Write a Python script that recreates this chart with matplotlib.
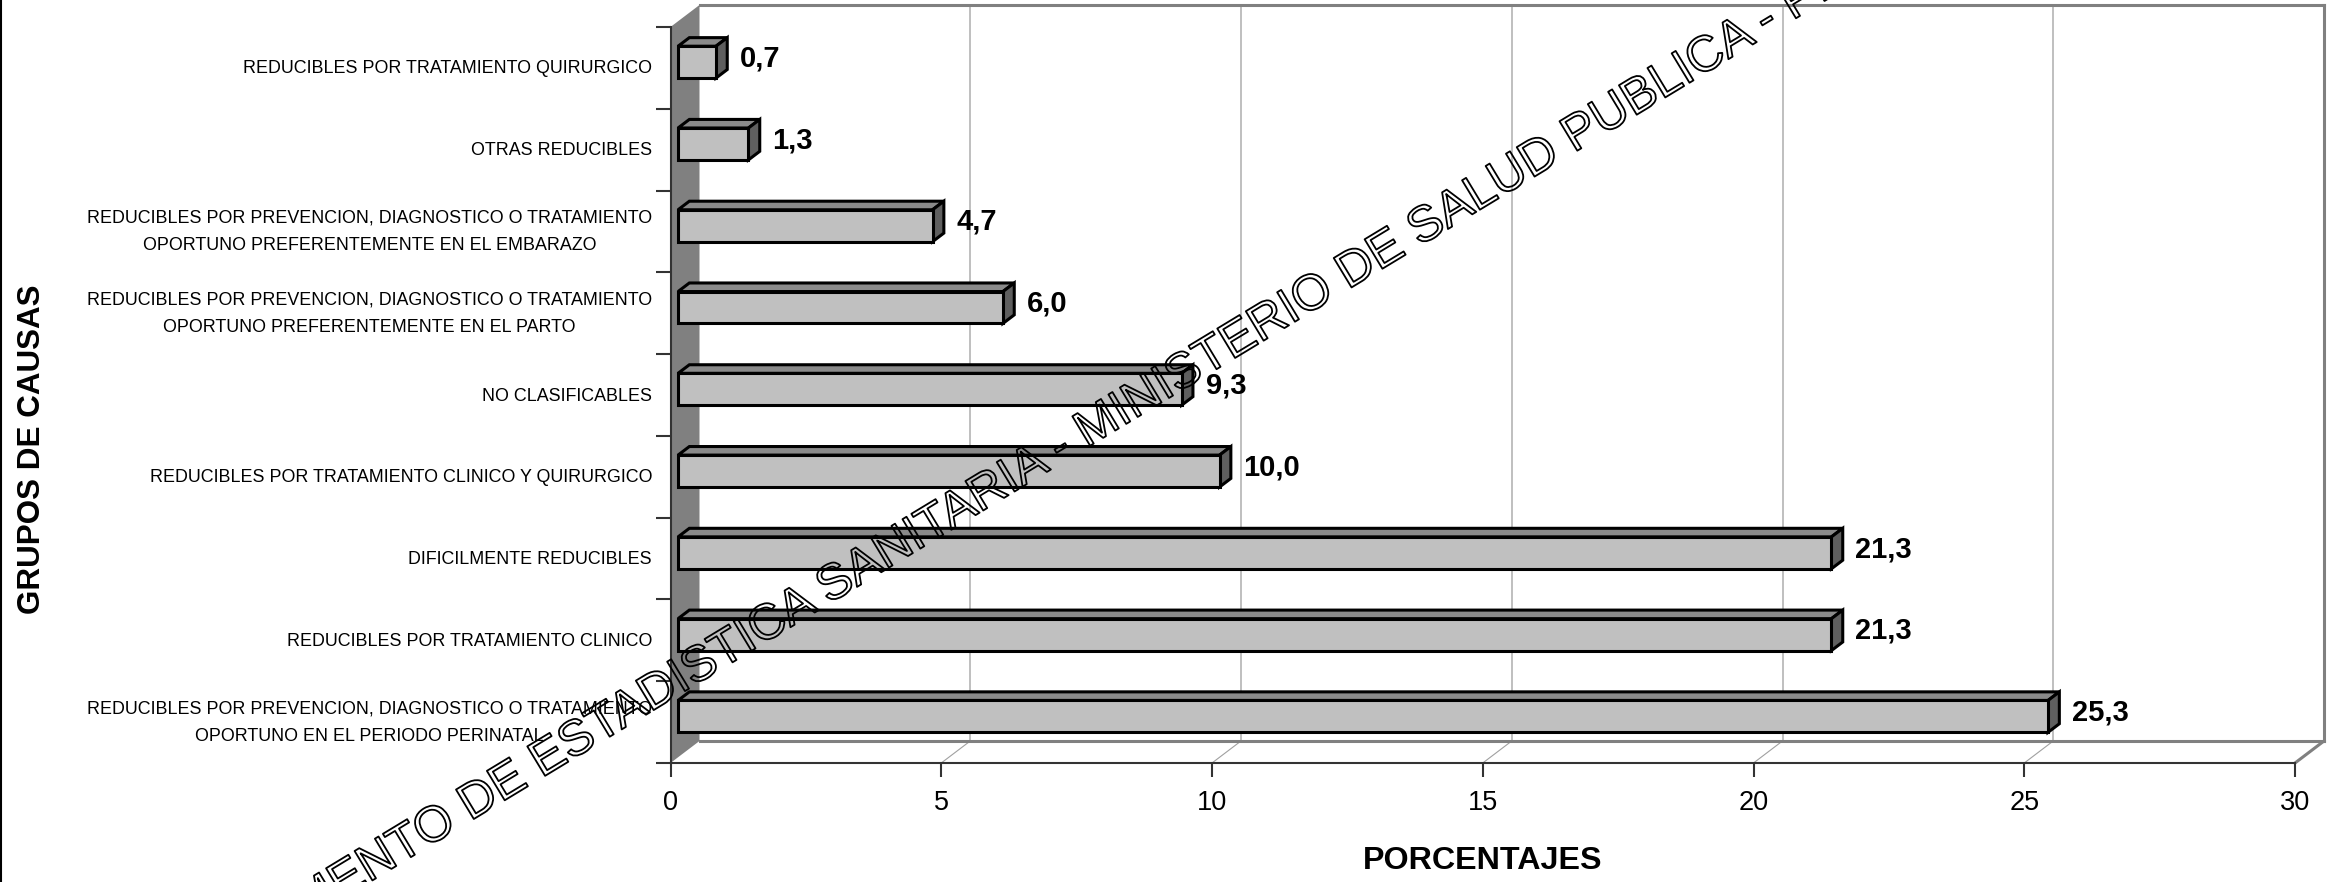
import matplotlib
matplotlib.use('Agg')
import matplotlib.pyplot as plt
from matplotlib.patches import Polygon
from matplotlib.lines import Line2D
from matplotlib.transforms import IdentityTransform, offset_copy
from matplotlib.font_manager import FontProperties
from matplotlib.ticker import FixedLocator
import matplotlib.patheffects as pe
import numpy as np

plt.rcParams['font.family'] = ['Liberation Sans', 'DejaVu Sans']

# ---------------- data (bottom to top) ----------------
categories = [
    "REDUCIBLES POR PREVENCION, DIAGNOSTICO O TRATAMIENTO\nOPORTUNO EN EL PERIODO PERINATAL",
    "REDUCIBLES POR TRATAMIENTO CLINICO",
    "DIFICILMENTE REDUCIBLES",
    "REDUCIBLES POR TRATAMIENTO CLINICO Y QUIRURGICO",
    "NO CLASIFICABLES",
    "REDUCIBLES POR PREVENCION, DIAGNOSTICO O TRATAMIENTO\nOPORTUNO PREFERENTEMENTE EN EL PARTO",
    "REDUCIBLES POR PREVENCION, DIAGNOSTICO O TRATAMIENTO\nOPORTUNO PREFERENTEMENTE EN EL EMBARAZO",
    "OTRAS REDUCIBLES",
    "REDUCIBLES POR TRATAMIENTO QUIRURGICO",
]
values = [25.3, 21.3, 21.3, 10.0, 9.3, 6.0, 4.7, 1.3, 0.7]
value_labels = ["25,3", "21,3", "21,3", "10,0", "9,3", "6,0", "4,7", "1,3", "0,7"]
x_ticks = [0, 5, 10, 15, 20, 25, 30]
x_tick_labels = ["0", "5", "10", "15", "20", "25", "30"]
x_title = "PORCENTAJES"
y_title = "GRUPOS DE CAUSAS"
watermark = "DEPARTAMENTO DE ESTADISTICA SANITARIA - MINISTERIO DE SALUD PUBLICA - PROVINCIA"

# ---------------- figure / axes ----------------
W, H, DPI = 2338, 882, 100
fig = plt.figure(figsize=(W / DPI, H / DPI), dpi=DPI, facecolor='white')
X0, X1, YT, YB = 670.5, 2295, 27, 763          # front plane of the plot area (px)
ax = fig.add_axes([X0 / W, 1 - YB / H, (X1 - X0) / W, (YB - YT) / H])
n = len(values)
XMAX = x_ticks[-1]
ylo, yhi = -0.5, n - 0.5
ax.set_xlim(0, XMAX)
ax.set_ylim(ylo, yhi)
ax.patch.set_visible(False)

DX, DY = 29, 22          # depth of the 3-D box (px)
D0, D1 = 0.26, 0.65      # bar front/back depth fraction
HB = 0.39                # bar thickness (category units)


def P(x, y, d=0.0):
    px, py = ax.transData.transform((x, y))
    return (px + d * DX, py + d * DY)


def face(pts, fc, ec='none', lw=0.0, z=1.0):
    ax.add_patch(Polygon(pts, closed=True, transform=IdentityTransform(), clip_on=False,
                         facecolor=fc, edgecolor=ec, linewidth=lw, zorder=z,
                         joinstyle='miter'))


def seg(p, q, color, lw, z):
    ax.add_line(Line2D([p[0], q[0]], [p[1], q[1]], transform=IdentityTransform(),
                       color=color, lw=lw, zorder=z, clip_on=False))


# back wall
face([P(0, ylo, 1), P(XMAX, ylo, 1), P(XMAX, yhi, 1), P(0, yhi, 1)], 'white', z=0.1)
for t in x_ticks[1:-1]:
    seg(P(t, ylo, 1), P(t, yhi, 1), '#b4b4b4', 1.2, 0.2)
# floor
face([P(0, ylo, 0), P(XMAX, ylo, 0), P(XMAX, ylo, 1), P(0, ylo, 1)], 'white', z=0.3)
for t in x_ticks[1:-1]:
    seg(P(t, ylo, 0), P(t, ylo, 1), '#a0a0a0', 0.8, 0.35)
# box outline
seg(P(0, yhi, 1), P(XMAX, yhi, 1), '#808080', 2.2, 0.5)
seg(P(XMAX, yhi, 1), P(XMAX, ylo, 1), '#808080', 2.2, 0.5)
seg(P(0, ylo, 1), P(XMAX, ylo, 1), '#808080', 2.2, 0.5)
seg(P(XMAX, ylo, 1), P(XMAX, ylo, 0), '#808080', 2.2, 0.5)
# side wall
face([P(0, ylo, 0), P(0, yhi, 0), P(0, yhi, 1), P(0, ylo, 1)], '#808080', z=0.6)

# bars
front_tr = offset_copy(ax.transData, fig=fig, x=D0 * DX, y=D0 * DY, units='dots')
ax.barh(range(n), values, height=HB, left=0, color='#c0c0c0', edgecolor='black',
        linewidth=2.2, transform=front_tr, zorder=3)
for i, v in enumerate(values):
    yt, yb = i + HB / 2, i - HB / 2
    face([P(0, yt, D0), P(v, yt, D0), P(v, yt, D1), P(0, yt, D1)], '#8a8a8a', 'black', 2.2, 2.9)
    face([P(v, yb, D0), P(v, yt, D0), P(v, yt, D1), P(v, yb, D1)], '#5f5f5f', 'black', 2.2, 2.9)

# value labels
lab_tr = offset_copy(ax.transData, fig=fig, x=D0 * DX + 24, y=1.5, units='dots')
for i, (v, lab) in enumerate(zip(values, value_labels)):
    ax.text(v, i, lab, transform=lab_tr, ha='left', va='baseline',
            fontsize=21, fontweight='bold', color='black', zorder=5)

# axes (front edges)
for s in ['top', 'right']:
    ax.spines[s].set_visible(False)
for s in ['left', 'bottom']:
    ax.spines[s].set_color('#333333')
    ax.spines[s].set_linewidth(1.5)
    ax.spines[s].set_zorder(2.5)

# category labels
ax.set_yticks([])
ax.yaxis.set_minor_locator(FixedLocator(np.arange(ylo, yhi + 0.01, 1.0)))
ax.tick_params(axis='y', which='minor', length=10.8, width=1.5, color='#333333')
cat_tr1 = offset_copy(ax.transData, fig=fig, x=-18.5, y=-1.0, units='dots')
cat_tr2 = offset_copy(ax.transData, fig=fig, x=-18.5, y=-0.5, units='dots')
for i, lab in enumerate(categories):
    ax.text(0, i, lab, transform=cat_tr2 if '\n' in lab else cat_tr1,
            ha='right', va='center', multialignment='center', linespacing=1.8,
            fontsize=12.9, color='black')

ax.set_xticks(x_ticks, x_tick_labels, fontsize=19.5)
ax.tick_params(axis='x', length=10.1, width=1.5, color='#333333', pad=9.5)

ax.set_xlabel(x_title, fontsize=23.2, fontweight='bold')
ax.xaxis.set_label_coords(0.5, -0.1128)
ax.set_ylabel(y_title, fontsize=22.6, fontweight='bold')
ax.yaxis.set_label_coords(-0.3841, 0.4266)

# left border of the chart area
fig.add_artist(Line2D([1, 1], [0, H], transform=IdentityTransform(), color='black', lw=1.5))

# watermark (outlined text)
renderer = fig.canvas.get_renderer()
fs_wm = 36
fp = FontProperties(family='Liberation Sans', size=fs_wm)
pre = watermark[:watermark.index(' - ') + 2]
w_pre, _, _ = renderer.get_text_width_height_descent(pre, fp, ismath=False)
em = fs_wm * DPI / 72
along = w_pre - 0.125 * em
ang_deg = 31.2
ang = np.deg2rad(ang_deg)
hx, hy = 1062, H - 447
perp = 0.27 * em
axp = hx - along * np.cos(ang) + perp * np.sin(ang)
ayp = hy - along * np.sin(ang) - perp * np.cos(ang)
fig.text(axp, ayp, watermark, transform=IdentityTransform(), rotation=ang_deg,
         rotation_mode='anchor', ha='left', va='baseline', fontsize=fs_wm, color='none',
         path_effects=[pe.withStroke(linewidth=1.3, foreground='black')], zorder=10)

fig.savefig('out.png', dpi=DPI, facecolor='white')
